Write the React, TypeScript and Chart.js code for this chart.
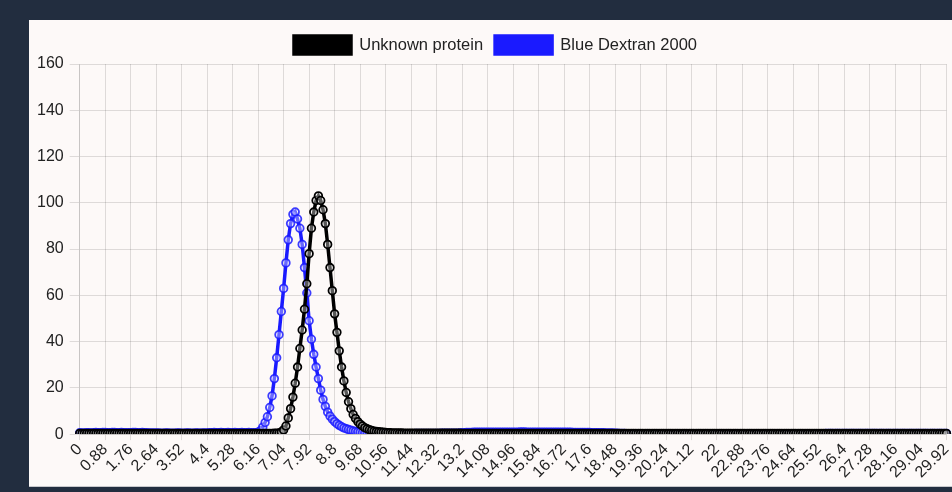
import React, { useEffect, useRef } from "react";
import { Chart, registerables } from "chart.js";

Chart.register(...registerables);

// Elution volume axis: one reading every 0.08, from 0 to 29.92
const STEP = 0.08;
const COUNT = 375;
const LABEL_EVERY = 11;
const xLabels: string[] = Array.from({ length: COUNT }, (_, i) => String(Number((i * STEP).toFixed(2))));

const yMin = 0;
const yMax = 160;
const yStep = 20;

const seriesNames = ["Unknown protein", "Blue Dextran 2000"];

// Unknown protein absorbance (11 readings per row = 0.88 per row)
const unknownProtein: number[] = [
  0.3, 0.3, 0.3, 0.3, 0.3, 0.3, 0.3, 0.3, 0.3, 0.3, 0.3,
  0.3, 0.3, 0.3, 0.3, 0.3, 0.3, 0.3, 0.3, 0.3, 0.3, 0.3,
  0.3, 0.3, 0.3, 0.3, 0.3, 0.3, 0.3, 0.3, 0.3, 0.3, 0.3,
  0.3, 0.3, 0.3, 0.3, 0.3, 0.3, 0.3, 0.3, 0.3, 0.3, 0.3,
  0.3, 0.3, 0.3, 0.3, 0.3, 0.3, 0.3, 0.3, 0.3, 0.3, 0.3,
  0.3, 0.3, 0.3, 0.3, 0.3, 0.3, 0.3, 0.3, 0.3, 0.3, 0.3,
  0.3, 0.3, 0.3, 0.3, 0.3, 0.3, 0.3, 0.3, 0.3, 0.3, 0.3,
  0.3, 0.3, 0.3, 0.3, 0.3, 0.3, 0.3, 0.4, 0.4, 0.5, 0.9,
  1.8, 3.5, 7, 11, 16, 22, 29, 37, 45, 54, 65,
  78, 89, 96, 101, 103, 101, 97, 91, 82, 72, 62,
  52, 44, 36, 29, 23, 18, 14, 11, 8.5, 6.8, 5.4,
  4.3, 3.5, 2.8, 2.3, 1.9, 1.6, 1.3, 1.1, 1.0, 0.9, 0.8,
  0.7, 0.65, 0.6, 0.55, 0.5, 0.5, 0.45, 0.45, 0.4, 0.4, 0.4,
  0.4, 0.4, 0.4, 0.35, 0.35, 0.35, 0.35, 0.35, 0.35, 0.35, 0.35,
  0.35, 0.35, 0.35, 0.35, 0.35, 0.35, 0.35, 0.35, 0.35, 0.35, 0.35,
  0.3, 0.3, 0.3, 0.3, 0.3, 0.3, 0.3, 0.3, 0.3, 0.3, 0.3,
  0.3, 0.3, 0.3, 0.3, 0.3, 0.3, 0.3, 0.3, 0.3, 0.3, 0.3,
  0.3, 0.3, 0.3, 0.3, 0.3, 0.3, 0.3, 0.3, 0.3, 0.3, 0.3,
  0.3, 0.3, 0.3, 0.3, 0.3, 0.3, 0.3, 0.3, 0.3, 0.3, 0.3,
  0.3, 0.3, 0.3, 0.3, 0.3, 0.3, 0.3, 0.3, 0.3, 0.3, 0.3,
  0.3, 0.3, 0.3, 0.3, 0.3, 0.3, 0.3, 0.3, 0.3, 0.3, 0.3,
  0.3, 0.3, 0.3, 0.3, 0.3, 0.3, 0.3, 0.3, 0.3, 0.3, 0.3,
  0.3, 0.3, 0.3, 0.3, 0.3, 0.3, 0.3, 0.3, 0.3, 0.3, 0.3,
  0.3, 0.3, 0.3, 0.3, 0.3, 0.3, 0.3, 0.3, 0.3, 0.3, 0.3,
  0.3, 0.3, 0.3, 0.3, 0.3, 0.3, 0.3, 0.3, 0.3, 0.3, 0.3,
  0.3, 0.3, 0.3, 0.3, 0.3, 0.3, 0.3, 0.3, 0.3, 0.3, 0.3,
  0.3, 0.3, 0.3, 0.3, 0.3, 0.3, 0.3, 0.3, 0.3, 0.3, 0.3,
  0.3, 0.3, 0.3, 0.3, 0.3, 0.3, 0.3, 0.3, 0.3, 0.3, 0.3,
  0.3, 0.3, 0.3, 0.3, 0.3, 0.3, 0.3, 0.3, 0.3, 0.3, 0.3,
  0.3, 0.3, 0.3, 0.3, 0.3, 0.3, 0.3, 0.3, 0.3, 0.3, 0.3,
  0.3, 0.3, 0.3, 0.3, 0.3, 0.3, 0.3, 0.3, 0.3, 0.3, 0.3,
  0.3, 0.3, 0.3, 0.3, 0.3, 0.3, 0.3, 0.3, 0.3, 0.3, 0.3,
  0.3, 0.3, 0.3, 0.3, 0.3, 0.3, 0.3, 0.3, 0.3, 0.3, 0.3,
  0.3, 0.3, 0.3, 0.3, 0.3, 0.3, 0.3, 0.3, 0.3, 0.3, 0.3,
  0.3,
];

// Blue Dextran 2000 absorbance (11 readings per row = 0.88 per row)
const blueDextran: number[] = [
  0.6, 0.5, 0.5, 0.6, 0.6, 0.5, 0.6, 0.7, 0.6, 0.6, 0.7,
  0.7, 0.6, 0.6, 0.7, 0.7, 0.6, 0.6, 0.7, 0.6, 0.6, 0.6,
  0.6, 0.7, 0.7, 0.6, 0.6, 0.7, 0.6, 0.6, 0.5, 0.5, 0.5,
  0.5, 0.5, 0.4, 0.4, 0.5, 0.5, 0.4, 0.4, 0.4, 0.5, 0.5,
  0.4, 0.4, 0.5, 0.5, 0.4, 0.4, 0.5, 0.5, 0.4, 0.5, 0.5,
  0.5, 0.6, 0.6, 0.7, 0.6, 0.6, 0.7, 0.6, 0.6, 0.7, 0.6,
  0.6, 0.7, 0.6, 0.6, 0.7, 0.6, 0.6, 0.7, 0.6, 0.6, 0.6,
  0.8, 1.5, 3, 5, 7.5, 11.5, 16.5, 24, 33, 43, 53,
  63, 74, 84, 91, 95, 96, 93, 89, 82, 72, 61,
  49, 41, 34.5, 29, 24, 19, 15, 12, 9.5, 7.8, 6.5,
  5.4, 4.5, 3.8, 3.2, 2.7, 2.3, 2.0, 1.7, 1.4, 1.2, 1.0,
  0.8, 0.6, 0.5, 0.4, 0.3, 0.2, 0.2, 0.1, 0.1, 0.1, 0.1,
  0.1, 0.1, 0.1, 0.2, 0.2, 0.2, 0.2, 0.2, 0.2, 0.2, 0.2,
  0.2, 0.2, 0.3, 0.3, 0.3, 0.3, 0.3, 0.3, 0.3, 0.3, 0.3,
  0.3, 0.3, 0.4, 0.4, 0.4, 0.4, 0.4, 0.4, 0.4, 0.4, 0.5,
  0.6, 0.6, 0.7, 0.7, 0.7, 0.8, 0.8, 0.8, 0.8, 0.8, 0.8,
  0.8, 0.8, 0.8, 0.8, 0.8, 0.8, 0.8, 0.8, 0.8, 0.8, 0.8,
  0.8, 0.8, 0.8, 0.9, 0.9, 0.9, 0.8, 0.8, 0.8, 0.8, 0.8,
  0.8, 0.8, 0.8, 0.8, 0.8, 0.8, 0.8, 0.8, 0.8, 0.8, 0.8,
  0.8, 0.8, 0.8, 0.8, 0.7, 0.7, 0.7, 0.7, 0.7, 0.7, 0.7,
  0.7, 0.6, 0.6, 0.6, 0.6, 0.6, 0.6, 0.5, 0.5, 0.5, 0.5,
  0.4, 0.4, 0.3, 0.3, 0.3, 0.2, 0.2, 0.1, 0.1, 0.0, 0.0,
  -0.1, -0.1, -0.2, -0.2, -0.2, -0.2, -0.2, -0.2, -0.2, -0.2, -0.2,
  -0.2, -0.2, -0.2, -0.2, -0.2, -0.2, -0.2, -0.2, -0.2, -0.2, -0.2,
  -0.2, -0.2, -0.2, -0.2, -0.2, -0.2, -0.2, -0.2, -0.2, -0.2, -0.2,
  -0.2, -0.2, -0.2, -0.2, -0.2, -0.2, -0.2, -0.2, -0.2, -0.2, -0.2,
  -0.2, -0.2, -0.2, -0.1, -0.1, -0.1, 0.0, 0.0, 0.0, 0.1, 0.1,
  0.2, 0.2, 0.2, 0.2, 0.2, 0.2, 0.2, 0.2, 0.2, 0.2, 0.2,
  0.2, 0.2, 0.2, 0.2, 0.2, 0.2, 0.2, 0.2, 0.2, 0.2, 0.2,
  0.2, 0.2, 0.2, 0.3, 0.3, 0.3, 0.3, 0.3, 0.3, 0.3, 0.3,
  0.3, 0.3, 0.3, 0.3, 0.3, 0.3, 0.3, 0.3, 0.3, 0.3, 0.3,
  0.3, 0.3, 0.3, 0.3, 0.3, 0.3, 0.3, 0.3, 0.3, 0.3, 0.3,
  0.3, 0.3, 0.3, 0.3, 0.3, 0.3, 0.3, 0.3, 0.3, 0.3, 0.3,
  0.3, 0.3, 0.3, 0.3, 0.3, 0.3, 0.3, 0.3, 0.3, 0.3, 0.3,
  0.3,
];

const FONT = "'Liberation Sans', Arial, Helvetica, sans-serif";
const TEXT = "#222222";
const GRID = "rgba(0,0,0,0.12)";
const BLACK = "#000000";
const BLUE = "#1a1aff";

export default function App() {
  const canvasRef = useRef<HTMLCanvasElement | null>(null);

  useEffect(() => {
    if (!canvasRef.current) return;
    const chart = new Chart(canvasRef.current, {
      type: "line",
      data: {
        labels: xLabels,
        datasets: [
          {
            label: seriesNames[0],
            data: unknownProtein,
            borderColor: BLACK,
            backgroundColor: BLACK,
            borderWidth: 3.5,
            pointRadius: 3.8,
            pointBorderWidth: 1.8,
            pointBorderColor: BLACK,
            pointBackgroundColor: "rgba(255,255,255,0.35)",
            tension: 0,
          },
          {
            label: seriesNames[1],
            data: blueDextran,
            borderColor: BLUE,
            backgroundColor: BLUE,
            borderWidth: 3.5,
            pointRadius: 3.8,
            pointBorderWidth: 1.8,
            pointBorderColor: "rgba(26,26,255,0.85)",
            pointBackgroundColor: "rgba(255,255,255,0.35)",
            tension: 0,
          },
        ],
      },
      options: {
        animation: false,
        responsive: true,
        maintainAspectRatio: false,
        layout: { padding: { left: 2, right: 0, top: 4, bottom: 4 } },
        plugins: {
          legend: {
            display: true,
            position: "top",
            labels: {
              boxWidth: 57,
              boxHeight: 18,
              color: TEXT,
              font: { family: FONT, size: 16.5 },
              padding: 12,
            },
          },
          tooltip: { enabled: false },
        },
        scales: {
          x: {
            grid: { color: GRID, tickLength: 6 },
            ticks: {
              autoSkip: false,
              minRotation: 45,
              maxRotation: 45,
              color: TEXT,
              font: { family: FONT, size: 16 },
              padding: 0,
              callback: (_v: any, i: number) => (i % LABEL_EVERY === 0 ? xLabels[i] : null),
            },
          },
          y: {
            min: yMin,
            max: yMax,
            grid: { color: GRID, tickLength: 10 },
            ticks: {
              stepSize: yStep,
              color: TEXT,
              font: { family: FONT, size: 16 },
              padding: 6,
            },
          },
        },
      },
    });
    return () => chart.destroy();
  }, []);

  return (
    <div style={{ position: "fixed", left: 0, top: 0, width: 952, height: 492, background: "#222d3f", overflow: "hidden" }}>
      <div
        style={{
          position: "absolute",
          left: 29,
          top: 20,
          width: 931,
          height: 467,
          background: "#fdf9f8",
          borderBottom: "1px solid #c8c8cc",
          boxSizing: "border-box",
        }}
      >
        <canvas ref={canvasRef} />
      </div>
    </div>
  );
}
